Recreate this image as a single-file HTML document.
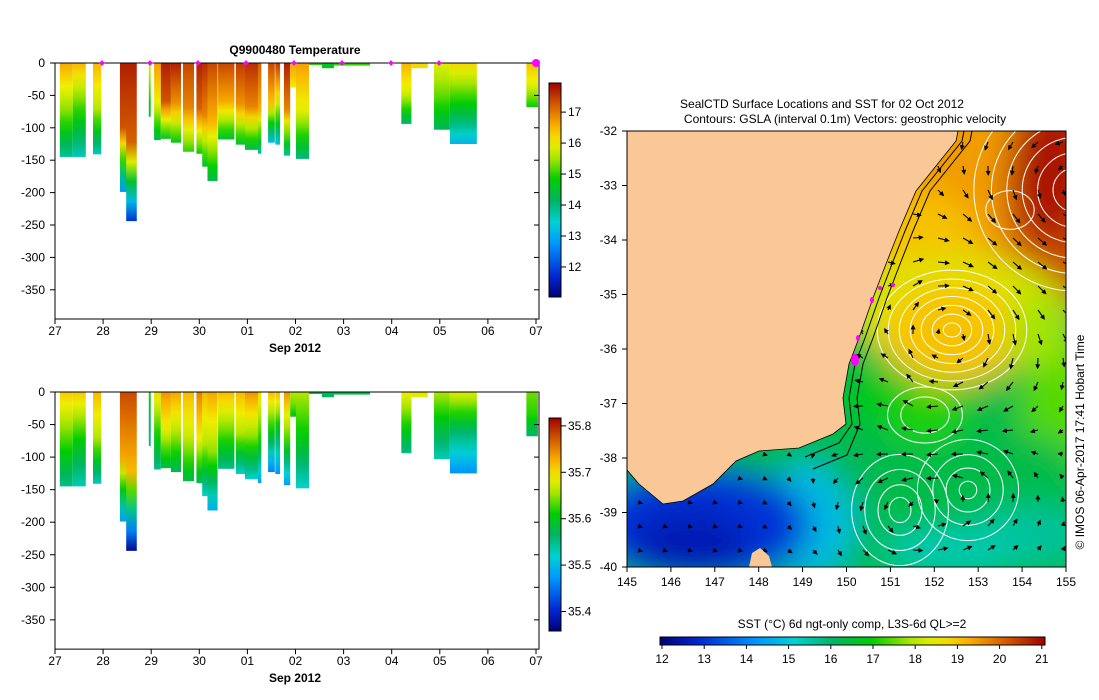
<!DOCTYPE html>
<html><head><meta charset="utf-8"><style>
body{margin:0;background:#fff;}
svg{display:block;font-family:"Liberation Sans",sans-serif;}
text{font-size:12px;fill:#000;}
</style></head><body>
<svg id="root" width="1099" height="700" viewBox="0 0 1099 700">
<defs>
<filter id="blur" x="-20%" y="-20%" width="140%" height="140%"><feGaussianBlur stdDeviation="16"/></filter>
<clipPath id="mapclip"><rect x="627" y="131" width="439" height="436"/></clipPath>
<marker id="ah" markerWidth="5" markerHeight="5" refX="4" refY="2.5" orient="auto" markerUnits="userSpaceOnUse"><path d="M0,0 L5,2.5 L0,5z" fill="#000"/></marker>
</defs>
<g id="g-temp"></g>
<g id="g-sal"></g>
<g id="g-map"></g>
</svg>
<script>
// cast data: start day, end day (days since 27 Sep), depth (m)
const castStart=[0.10,0.37,0.79,1.35,1.48,1.95,2.06,2.20,2.41,2.66,2.94,3.06,3.17,3.39,3.76,3.95,4.22,4.43,4.58,4.76,4.89,5.01,5.28,5.55,5.80,7.20,7.41,7.88,8.21,9.80];
const castEnd  =[0.37,0.64,0.96,1.52,1.70,1.99,2.20,2.41,2.62,2.89,3.10,3.20,3.38,3.73,3.95,4.22,4.29,4.57,4.68,4.89,5.01,5.28,5.55,5.80,6.55,7.41,7.75,8.21,8.77,10.04];
const castDepth=[145,145,141,199,244,83,119,117,123,137,140,160,182,118,126,134,140,123,126,143,38,148,3,8,4,94,8,103,125,68];
const tempSurf =[16.6,16.5,16.5,17.7,17.7,15.9,16.7,17.7,17.7,17.4,17.7,17.6,17.4,17.4,17.5,17.6,17.2,17.4,17.5,17.7,16.6,16.7,15.0,14.6,15.0,16.5,16.2,15.9,16.2,16.4];
const tempMid  =[15.4,15.0,15.6,17.3,17.2,15.2,16.0,17.3,16.8,16.9,17.2,16.9,16.5,16.6,16.8,16.9,16.6,16.4,15.8,16.9,16.4,15.9,15.0,14.6,15.0,15.8,16.2,15.2,14.8,15.9];
const tempBot  =[13.8,13.6,13.6,12.8,11.8,14.5,14.3,14.6,14.7,15.0,14.8,14.5,14.3,14.5,14.5,14.3,13.8,13.2,13.3,13.8,16.0,14.0,15.0,14.6,15.0,14.1,16.2,14.2,13.1,14.8];
const salSurf  =[35.71,35.71,35.72,35.78,35.78,35.62,35.70,35.74,35.73,35.72,35.75,35.72,35.73,35.72,35.72,35.74,35.70,35.72,35.72,35.74,35.66,35.66,35.59,35.57,35.58,35.69,35.68,35.66,35.68,35.64];
const salMid   =[35.63,35.61,35.66,35.73,35.72,35.57,35.62,35.68,35.66,35.67,35.69,35.66,35.65,35.64,35.66,35.65,35.62,35.60,35.58,35.63,35.64,35.60,35.59,35.57,35.58,35.62,35.68,35.59,35.56,35.62];
const salBot   =[35.55,35.53,35.53,35.48,35.37,35.55,35.55,35.58,35.57,35.58,35.57,35.52,35.49,35.55,35.52,35.52,35.48,35.46,35.47,35.48,35.60,35.52,35.59,35.57,35.58,35.55,35.68,35.53,35.47,35.56];
const dayLabels=["27","28","29","30","01","02","03","04","05","06","07"];
const depthTicks=[0,-50,-100,-150,-200,-250,-300,-350];
const tempTicks=[12,13,14,15,16,17];
const salTicks=[35.4,35.5,35.6,35.7,35.8];
const sstTicks=[12,13,14,15,16,17,18,19,20,21];
const latTicks=[-32,-33,-34,-35,-36,-37,-38,-39,-40];
const lonTicks=[145,146,147,148,149,150,151,152,153,154,155];

const NS="http://www.w3.org/2000/svg";
function mk(tag,attrs,parent){const e=document.createElementNS(NS,tag);for(const k in attrs)e.setAttribute(k,attrs[k]);parent.appendChild(e);return e;}
const stops=[[0,[0,0,120]],[0.1,[0,40,210]],[0.25,[0,150,255]],[0.35,[0,210,210]],[0.45,[0,180,100]],[0.55,[0,205,0]],[0.65,[170,230,0]],[0.72,[240,240,0]],[0.8,[250,175,0]],[0.9,[210,90,0]],[1,[160,0,0]]];
function cmap(t){t=Math.max(0,Math.min(1,t));for(let i=1;i<stops.length;i++){if(t<=stops[i][0]){const a=stops[i-1],b=stops[i];const f=(t-a[0])/(b[0]-a[0]);const c=a[1].map((v,j)=>Math.round(v+(b[1][j]-v)*f));return `rgb(${c[0]},${c[1]},${c[2]})`;}}return "rgb(160,0,0)";}
let gid=0;
function grad(cols){const id="gr"+(gid++);const lg=mk("linearGradient",{id:id,x1:0,y1:0,x2:0,y2:1},document.querySelector("defs"));cols.forEach((c,i)=>mk("stop",{offset:(i/(cols.length-1)),"stop-color":c},lg));return id;}

function profileChart(g,y0,yScale,vmin,vmax,surf,mid,bot,cbTop,cbBot,ticks,fmt,title){
  const xS=d=>55+d*48.1, yS=d=>y0+d*yScale, plotBot=y0+395*yScale;
  const cv=v=>(v-vmin)/(vmax-vmin);
  for(let i=0;i<castStart.length;i++){
    const cols=[];for(let k=0;k<=8;k++){const f=k/8;const v=f<0.5?surf[i]+(mid[i]-surf[i])*f*2:mid[i]+(bot[i]-mid[i])*(f-0.5)*2;cols.push(cmap(cv(v)));}
    const r=mk("rect",{x:xS(castStart[i]),y:y0,width:Math.max(1,xS(castEnd[i])-xS(castStart[i])),height:Math.max(2,castDepth[i]*yScale),fill:"url(#"+grad(cols)+")"},g);
    
    
  }
  mk("path",{d:`M55,${y0} V${plotBot} H539 V${y0} H55`,fill:"none",stroke:"#000","stroke-width":1},g);
  depthTicks.forEach(t=>{const y=yS(-t);mk("line",{x1:55,x2:50,y1:y,y2:y,stroke:"#000"},g);mk("line",{x1:539,x2:534,y1:y,y2:y,stroke:"#000"},g);const tx=mk("text",{x:45,y:y+4,"text-anchor":"end"},g);tx.textContent=t;});
  dayLabels.forEach((l,i)=>{const x=xS(i);mk("line",{x1:x,x2:x,y1:plotBot,y2:plotBot+5,stroke:"#000"},g);const tx=mk("text",{x:x,y:plotBot+16,"text-anchor":"middle"},g);tx.textContent=l;});
  const xl=mk("text",{x:295,y:plotBot+33,"text-anchor":"middle","font-weight":"bold"},g);xl.textContent="Sep 2012";
  if(title){const tt=mk("text",{x:295,y:y0-9,"text-anchor":"middle","font-weight":"bold"},g);tt.textContent=title;}
  const cols=[];for(let k=0;k<=20;k++)cols.push(cmap(1-k/20));
  const cb=mk("rect",{x:549,y:cbTop,width:12,height:cbBot-cbTop,fill:"url(#"+grad(cols)+")",stroke:"#000"},g);
  
  ticks.forEach(t=>{const y=cbBot-(t-vmin)/(vmax-vmin)*(cbBot-cbTop);mk("line",{x1:561,x2:566,y1:y,y2:y,stroke:"#000"},g);const tx=mk("text",{x:568,y:y+4},g);tx.textContent=fmt(t);});
}
const gT=document.getElementById("g-temp"),gSa=document.getElementById("g-sal");
profileChart(gT,63,0.648,11.03,17.94,tempSurf,tempMid,tempBot,83,297,tempTicks,t=>t,"Q9900480  Temperature");
[102,150,198,246,294,342,391,439].forEach(x=>{const m=mk("rect",{x:x-2,y:61,width:4,height:4,fill:"#f0f",transform:`rotate(45 ${x} 63)`},gT);});
mk("circle",{cx:536,cy:63,r:4,fill:"#f0f"},gT);
profileChart(gSa,392,0.651,35.358,35.817,salSurf,salMid,salBot,418,631,salTicks,t=>t.toFixed(1),null);

// ---- map ----
const gm=document.getElementById("g-map");
const lonX=l=>627+(l-145)*43.9, latY=l=>131+(-32-l)*54.5;
const ocean=mk("g",{"clip-path":"url(#mapclip)"},gm);
const sv=v=>cmap((v-12)/9);
const blobG=mk("g",{filter:"url(#blur)"},ocean);
mk("rect",{x:600,y:100,width:500,height:500,fill:sv(16.3)},blobG);
const blobs=[[1060,410,40,80,17.4],[990,200,150,110,19.4],[1065,190,60,120,20.3],[1050,170,40,70,20.8],[920,250,60,60,19.0],[960,310,110,55,18.2],[952,330,75,55,18.9],[950,335,45,35,19.0],[1040,330,30,40,17.8],[925,415,45,30,17.1],[870,395,30,25,16.8],[1000,470,80,40,16.3],[1030,535,60,30,15.6],[950,550,70,22,15.4],[810,520,45,60,14.8],[700,525,110,60,13.0],[690,545,60,35,12.6],[860,470,30,25,16.2]];
blobs.forEach(b=>mk("ellipse",{cx:b[0],cy:b[1],rx:b[2],ry:b[3],fill:sv(b[4])},blobG));
[[952,330,[8,18,28,38,48,58,68],0.8],[900,510,[10,20,32,44],1.15],[968,490,[8,20,32,46],1.0],[1075,190,[20,34,48,62,76,92],1.0],[925,415,[22,34],0.75],[1010,210,[22],0.8]].forEach(c=>c[2].forEach(r=>{const e=mk("ellipse",{cx:c[0],cy:c[1],rx:r*1.1,ry:r*1.1*c[3],fill:"none",stroke:"#fff","stroke-width":1},ocean);}));
const eddies=[[952,330,1.6,70],[900,510,-1.0,45],[968,490,-1.0,45],[1075,190,-1.2,80],[925,415,0.6,30]];
const coast=[[958,131],[956,141],[916,191],[899,231],[886,264],[873,298],[859,338],[849,364],[843,398],[846,424],[833,434],[799,448],[759,451],[736,461],[713,484],[683,501],[663,504],[639,484],[627,470]];
const land=[[627,131]].concat(coast);
function inPoly(x,y,p){let c=false;for(let i=0,j=p.length-1;i<p.length;j=i++){if(((p[i][1]>y)!=(p[j][1]>y))&&(x<(p[j][0]-p[i][0])*(y-p[i][1])/(p[j][1]-p[i][1])+p[i][0]))c=!c;}return c;}
for(let y=142;y<567;y+=24)for(let x=638;x<1066;x+=25){
  if(inPoly(x,y,land)||inPoly(x+8,y,land))continue;
  let u=0,v=0;eddies.forEach(e=>{const dx=x-e[0],dy=y-e[1],d2=dx*dx+dy*dy,s=e[2]*Math.exp(-d2/(2*e[3]*e[3]));u+=-dy/e[3]*s;v+=dx/e[3]*s;});
  if(x<900&&y<430){v+=0.6;u-=0.2;}
  if(x<830&&y>440){u+=0.15;v+=0.05;}
  const m=Math.hypot(u,v);if(m<0.05)continue;const L=Math.min(11,3+m*8);
  const a=mk("line",{x1:x,y1:y,x2:x+u/m*L,y2:y+v/m*L,stroke:"#000","stroke-width":1.1,"marker-end":"url(#ah)"},ocean);
  
}
[6,14].forEach(o=>mk("polyline",{points:coast.slice(0,12).map(p=>(p[0]+o)+","+(p[1]+(p[1]>430?o*1.5:0))).join(" "),fill:"none",stroke:"#000","stroke-width":1},ocean));
const lp=mk("polygon",{points:land.map(p=>p.join(",")).join(" "),fill:"#f9c896",stroke:"#000","stroke-width":0.8},ocean);

mk("polygon",{points:"749,567 752,553 760,548 769,556 772,567",fill:"#f9c896"},ocean);
[[855,360,4,6],[858,338,2,3],[872,300,2,3],[880,288,2,2],[893,285,2,2]].forEach(p=>{const e=mk("ellipse",{cx:p[0],cy:p[1],rx:p[2],ry:p[3],fill:"#f0f"},ocean);});
mk("rect",{x:627,y:131,width:439,height:436,fill:"none",stroke:"#000"},gm);
latTicks.forEach(l=>{const y=latY(l);mk("line",{x1:622,x2:627,y1:y,y2:y,stroke:"#000"},gm);const t=mk("text",{x:617,y:y+4,"text-anchor":"end"},gm);t.textContent=l;});
lonTicks.forEach(l=>{const x=lonX(l);mk("line",{x1:x,x2:x,y1:567,y2:572,stroke:"#000"},gm);const t=mk("text",{x:x,y:586,"text-anchor":"middle"},gm);t.textContent=l;});
const t1=mk("text",{x:822,y:108,"text-anchor":"middle"},gm);t1.textContent="SealCTD Surface Locations and SST for 02 Oct 2012";
const t2=mk("text",{x:845,y:123,"text-anchor":"middle"},gm);t2.textContent="Contours: GSLA (interval 0.1m) Vectors: geostrophic velocity";
const t3=mk("text",{x:852,y:628,"text-anchor":"middle"},gm);t3.textContent="SST (°C) 6d ngt-only comp, L3S-6d QL>=2";
const t4=mk("text",{x:1084,y:442,"text-anchor":"middle",transform:"rotate(-90 1084 442)","font-size":"14"},gm);t4.textContent="© IMOS 06-Apr-2017 17:41 Hobart Time";
const hc=[];for(let k=0;k<=20;k++)hc.push(cmap(k/20));
const hid="gr"+(gid++);const lg=mk("linearGradient",{id:hid,x1:0,y1:0,x2:1,y2:0},document.querySelector("defs"));hc.forEach((c,i)=>mk("stop",{offset:i/20,"stop-color":c},lg));
const cb=mk("rect",{x:660,y:637,width:385,height:8,fill:"url(#"+hid+")",stroke:"#000"},gm);
sstTicks.forEach(v=>{const x=662+(v-12)*42.2;mk("line",{x1:x,x2:x,y1:645,y2:649,stroke:"#000"},gm);const t=mk("text",{x:x,y:663,"text-anchor":"middle"},gm);t.textContent=v;});
</script>
</body></html>
